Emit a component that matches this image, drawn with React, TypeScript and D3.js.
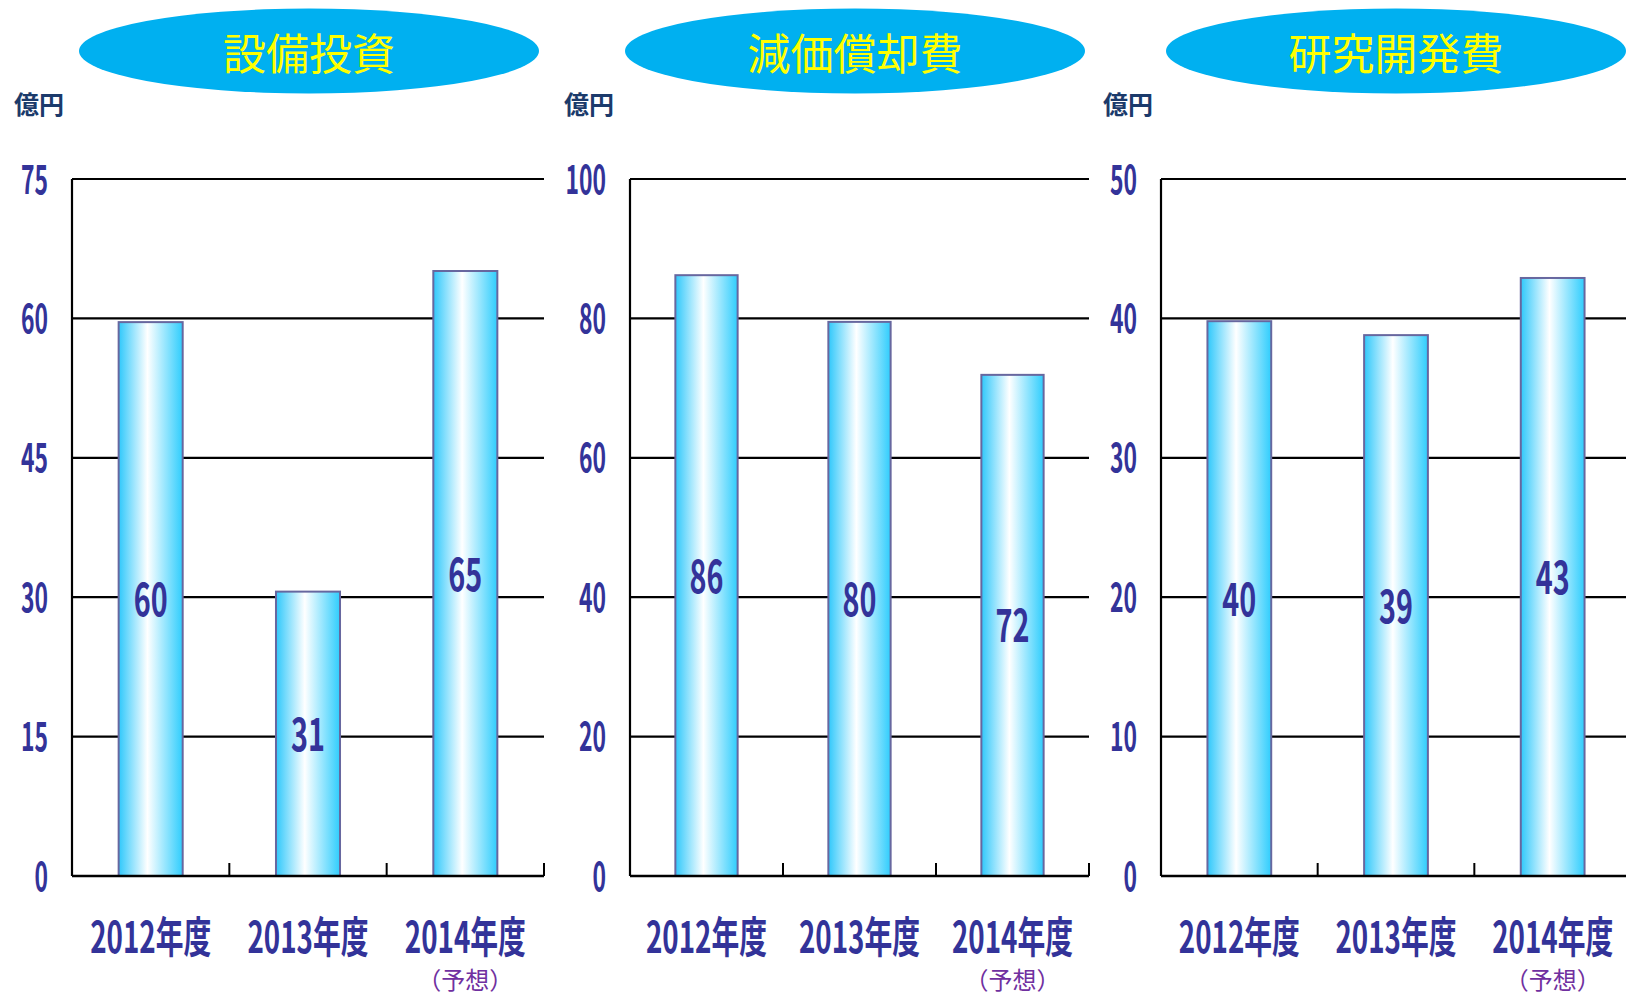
import * as d3 from "d3";

// chart data
const categories = ["2012年度", "2013年度", "2014年度"];
const titles = ["設備投資", "減価償却費", "研究開発費"];
const capexValues = [59.6, 30.6, 65.1];
const depreciationValues = [86.2, 79.5, 71.9];
const researchValues = [39.8, 38.8, 42.9];
const capexTicks = [0, 15, 30, 45, 60, 75];
const depreciationTicks = [0, 20, 40, 60, 80, 100];
const researchTicks = [0, 10, 20, 30, 40, 50];
const unitLabel = "億円";
const forecastNote = "（予想）";

const W = 1626;
const H = 996;
const PLOT_TOP = 179;
const PLOT_BOTTOM = 876;

const NUM_FONT = "'Liberation Sans Narrow', 'Arial Narrow', 'Noto Sans CJK JP', sans-serif";
const CJK_FONT = "'Noto Sans CJK JP', sans-serif";
const INDIGO = "#333399";
const SQUEEZE = 0.74; // horizontal squeeze of the condensed category labels

type PanelProps = {
  title: string;
  values: number[];
  ticks: number[];
  left: number;
  right: number;
  titleCx: number;
  unitX: number;
};

function Panel({ title, values, ticks, left, right, titleCx, unitX }: PanelProps) {
  const x = d3
    .scaleBand<string>()
    .domain(categories)
    .range([left, right])
    .paddingInner(0.593)
    .paddingOuter(0.2965);
  const y = d3
    .scaleLinear()
    .domain([0, ticks[ticks.length - 1]])
    .range([PLOT_BOTTOM, PLOT_TOP]);
  const step = x.step();

  return (
    <g>
      <ellipse cx={titleCx} cy={51} rx={230} ry={42.5} fill="#00b0f0" />
      <text
        x={titleCx}
        y={70}
        textAnchor="middle"
        fontFamily={CJK_FONT}
        fontSize={43}
        fill="#ffff00"
      >
        {title}
      </text>
      <text
        x={unitX}
        y={114}
        fontFamily={CJK_FONT}
        fontWeight={700}
        fontSize={25}
        fill="#1b3a6b"
      >
        {unitLabel}
      </text>

      {ticks.map((t) => (
        <g key={t}>
          {t > 0 && (
            <line x1={left} x2={right} y1={y(t)} y2={y(t)} stroke="#000" strokeWidth={2.2} />
          )}
          <text
            x={left - 24}
            y={y(t) + 14.5}
            textAnchor="end"
            fontFamily={NUM_FONT}
            fontWeight={700}
            fontSize={40}
            fill={INDIGO}
            textLength={String(t).length * 13.5}
            lengthAdjust="spacingAndGlyphs"
          >
            {t}
          </text>
        </g>
      ))}

      {values.map((v, i) => {
        const bx = x(categories[i]) ?? 0;
        const bw = x.bandwidth();
        const top = y(v);
        const label = String(Math.round(v));
        return (
          <g key={categories[i]}>
            <rect
              x={bx}
              y={top}
              width={bw}
              height={PLOT_BOTTOM - top}
              fill="url(#barGrad)"
              stroke="#67679f"
              strokeWidth={2}
            />
            <text
              x={bx + bw / 2}
              y={(top + PLOT_BOTTOM) / 2 + 17}
              textAnchor="middle"
              fontFamily={NUM_FONT}
              fontWeight={700}
              fontSize={46}
              fill={INDIGO}
              textLength={label.length * 17}
              lengthAdjust="spacingAndGlyphs"
            >
              {label}
            </text>
          </g>
        );
      })}

      {/* axes */}
      <line x1={left} x2={left} y1={PLOT_TOP} y2={PLOT_BOTTOM} stroke="#000" strokeWidth={2.2} />
      <line x1={left} x2={right} y1={PLOT_TOP} y2={PLOT_TOP} stroke="#000" strokeWidth={2.2} />
      <line x1={left} x2={right} y1={PLOT_BOTTOM} y2={PLOT_BOTTOM} stroke="#000" strokeWidth={2.5} />
      {categories.map((c, i) => (
        <line
          key={c}
          x1={left + step * (i + 1)}
          x2={left + step * (i + 1)}
          y1={PLOT_BOTTOM}
          y2={PLOT_BOTTOM - 13}
          stroke="#000"
          strokeWidth={2}
        />
      ))}

      <g transform={`scale(${SQUEEZE},1)`}>
        {categories.map((c) => {
          const cx = (x(c) ?? 0) + x.bandwidth() / 2;
          return (
            <text
              key={c}
              x={cx / SQUEEZE}
              y={953}
              textAnchor="middle"
              fontFamily={NUM_FONT}
              fontWeight={700}
              fontSize={43}
              fill={INDIGO}
              textLength={121 / SQUEEZE}
              lengthAdjust="spacingAndGlyphs"
            >
              {c}
            </text>
          );
        })}
      </g>
      <text
        x={(x(categories[2]) ?? 0) + x.bandwidth() / 2}
        y={989}
        textAnchor="middle"
        fontFamily={CJK_FONT}
        fontSize={24}
        fill="#7030a0"
      >
        {forecastNote}
      </text>
    </g>
  );
}

export default function App() {
  return (
    <svg
      width={W}
      height={H}
      style={{ position: "absolute", left: 0, top: 0, display: "block", background: "#fff" }}
    >
      <defs>
        <linearGradient id="barGrad" x1="0" x2="1" y1="0" y2="0">
          <stop offset="0%" stopColor="#2fc8fb" />
          <stop offset="45%" stopColor="#ffffff" />
          <stop offset="100%" stopColor="#2fcdfd" />
        </linearGradient>
      </defs>
      <Panel title={titles[0]} values={capexValues} ticks={capexTicks} left={72} right={544} titleCx={309} unitX={14} />
      <Panel title={titles[1]} values={depreciationValues} ticks={depreciationTicks} left={630} right={1089} titleCx={855} unitX={564} />
      <Panel title={titles[2]} values={researchValues} ticks={researchTicks} left={1161} right={1631} titleCx={1396} unitX={1103} />
    </svg>
  );
}
